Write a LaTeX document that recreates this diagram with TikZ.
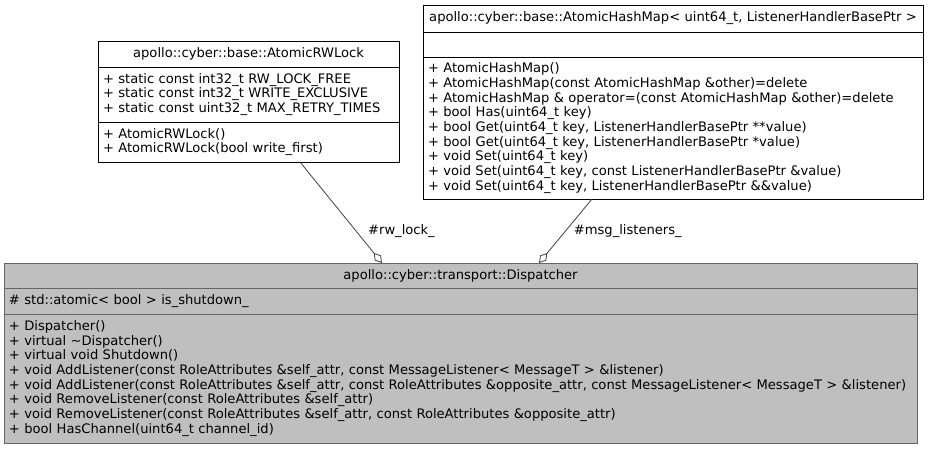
\documentclass[tikz,border=0pt]{standalone}
\usepackage{fontspec}
\setmainfont{DejaVu Sans}
\usetikzlibrary{arrows.meta,positioning}
\definecolor{edgeGrey}{HTML}{404040}
\definecolor{mainFill}{HTML}{BFBFBF}
\definecolor{mainLine}{HTML}{666666}
\newcommand{\umlfont}{\fontsize{13.1}{14.7}\selectfont}

\begin{document}
\begin{tikzpicture}[x=1pt,y=-1pt,
  classbox/.style={draw,fill=white,line width=1pt,outer sep=0pt,inner xsep=5pt,inner ysep=0pt,
    text width=#1,align=left,font=\umlfont},
  classname/.style={classbox=#1,align=center},
  mainbox/.style={fill=mainFill,draw=mainLine},
  aggr/.style={draw=edgeGrey,line width=0.8pt,-{Diamond[fill=white,length=13pt,width=8pt]}},
  edgelabel/.style={font=\umlfont,inner sep=0pt}]
  \useasboundingbox (0,0) rectangle (932,448);

  % member classes
  \node[classname=291pt,minimum height=26pt,anchor=north west] (rwlock) at (98,41)
    {apollo::cyber::base::AtomicRWLock};
  \node[classbox=291pt,minimum height=55pt,below=0pt of rwlock] (rwlockAttr)
    {+ static const int32\_t RW\_LOCK\_FREE\\
     + static const int32\_t WRITE\_EXCLUSIVE\\
     + static const uint32\_t MAX\_RETRY\_TIMES};
  \node[classbox=291pt,minimum height=40pt,below=0pt of rwlockAttr] (rwlockOps)
    {+ AtomicRWLock()\\
     + AtomicRWLock(bool write\_first)};

  \node[classname=490pt,minimum height=27pt,anchor=north west] (hashmap) at (423,5)
    {apollo::cyber::base::AtomicHashMap< uint64\_t, ListenerHandlerBasePtr >};
  \node[classbox=490pt,minimum height=25pt,below=0pt of hashmap] (hashmapAttr) {};
  \node[classbox=490pt,minimum height=142pt,below=0pt of hashmapAttr] (hashmapOps)
    {+ AtomicHashMap()\\
     + AtomicHashMap(const AtomicHashMap \&other)=delete\\
     + AtomicHashMap \& operator=(const AtomicHashMap \&other)=delete\\
     + bool Has(uint64\_t key)\\
     + bool Get(uint64\_t key, ListenerHandlerBasePtr **value)\\
     + bool Get(uint64\_t key, ListenerHandlerBasePtr *value)\\
     + void Set(uint64\_t key)\\
     + void Set(uint64\_t key, const ListenerHandlerBasePtr \&value)\\
     + void Set(uint64\_t key, ListenerHandlerBasePtr \&\&value)};

  % the documented class
  \node[classname=903pt,mainbox,minimum height=25pt,anchor=north west] (dispatcher) at (4,263)
    {apollo::cyber::transport::Dispatcher};
  \node[classbox=903pt,mainbox,minimum height=26pt,below=0pt of dispatcher] (dispatcherAttr)
    {\# std::atomic< bool > is\_shutdown\_};
  \node[classbox=903pt,mainbox,minimum height=129pt,below=0pt of dispatcherAttr] (dispatcherOps)
    {+ Dispatcher()\\
     + virtual \textasciitilde Dispatcher()\\
     + virtual void Shutdown()\\
     + void AddListener(const RoleAttributes \&self\_attr, const MessageListener< MessageT > \&listener)\\
     + void AddListener(const RoleAttributes \&self\_attr, const RoleAttributes \&opposite\_attr, const MessageListener< MessageT > \&listener)\\
     + void RemoveListener(const RoleAttributes \&self\_attr)\\
     + void RemoveListener(const RoleAttributes \&self\_attr, const RoleAttributes \&opposite\_attr)\\
     + bool HasChannel(uint64\_t channel\_id)};

  % aggregation edges
  \draw[aggr] ([xshift=51.5pt]rwlockOps.south) -- ([xshift=-78.5pt]dispatcher.north)
    node[edgelabel,pos=0.68,right=12pt] (rwlockLabel) {\#rw\_lock\_};
  \draw[aggr] ([xshift=-81pt]hashmapOps.south) -- ([xshift=78.5pt]dispatcher.north)
    node[edgelabel,pos=0.5,right=8pt] (hashmapLabel) {\#msg\_listeners\_};
\end{tikzpicture}
\end{document}
